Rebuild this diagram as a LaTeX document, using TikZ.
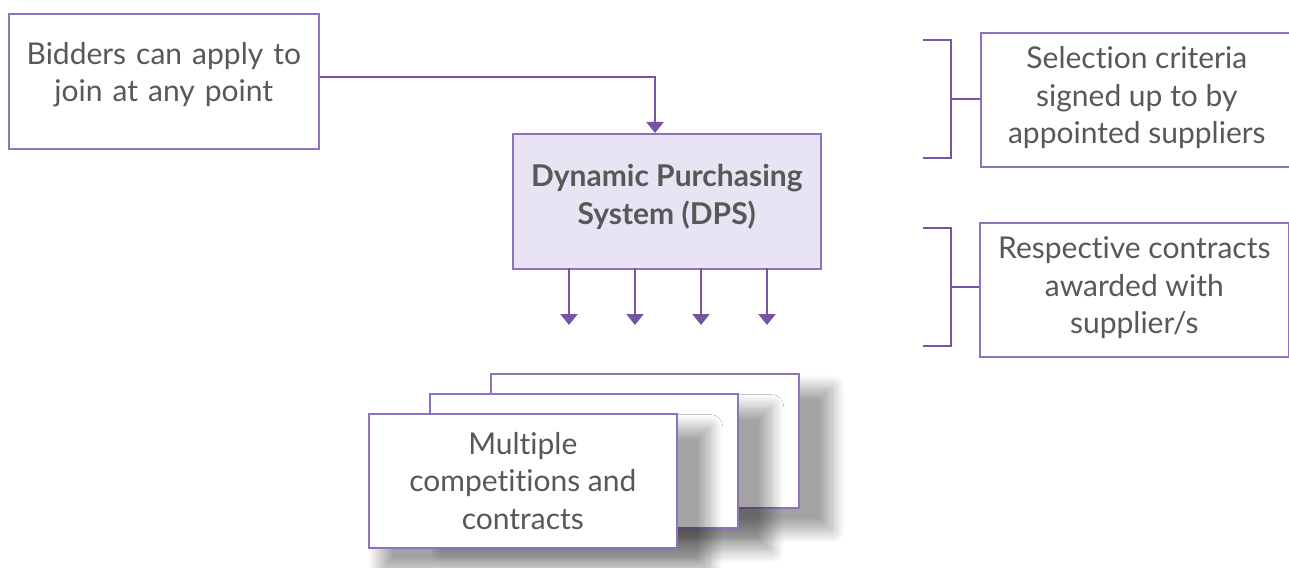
\documentclass[tikz,border=0pt]{standalone}
\usepackage{fontspec}
\setmainfont{Lato}[Ligatures=NoCommon]
\usetikzlibrary{arrows.meta,shadows.blur}
\definecolor{boxline}{RGB}{142,114,186}
\definecolor{arrowc}{RGB}{118,84,164}
\definecolor{dpsfill}{RGB}{232,228,243}
\definecolor{txt}{RGB}{88,88,88}
\tikzset{
  plainbox/.style={draw=boxline, line width=1.6pt, fill=white, text=txt, align=center,
    minimum width=310pt, minimum height=135pt, inner sep=0pt, anchor=north west,
    font=\fontsize{30}{37.5}\selectfont},
  dpsbox/.style={plainbox, fill=dpsfill, font=\fontsize{30}{38}\selectfont\bfseries},
  stackbox/.style={plainbox, blur shadow={shadow xshift=21pt, shadow yshift=-17pt,
    shadow scale=1.07, shadow blur radius=12pt, shadow blur steps=14, shadow opacity=36}},
  conn/.style={draw=arrowc, line width=2.4pt},
  arr/.style={conn, -{Triangle[width=17pt,length=11pt]}},
}
\begin{document}
\begin{tikzpicture}[x=1pt,y=-1pt]
\useasboundingbox (0,0) rectangle (1289,567);
% top-left box
\node[plainbox, text width=300pt] (bid) at (8,13) {Bidders can apply to\\join at any point\\[-30pt]\strut};
% DPS
\node[dpsbox, minimum width=308pt] (dps) at (512,133) {Dynamic Purchasing\\System (DPS)\\[-36pt]\strut};
\coordinate (bend) at (655,77);
\draw[arr] (bid.east |- bend) -- (bend) -- (bend |- dps.north);
% four arrows
\foreach \i/\x in {1/569,2/635,3/701,4/767}{
  \coordinate (s\i) at (\x,268);
  \coordinate (e\i) at (\x,325);
  \draw[arr] (s\i) -- (e\i);
}
% right boxes
\node[plainbox, minimum width=312pt, minimum height=134pt] (sel) at (980,32) {Selection criteria\\signed up to by\\appointed suppliers\\[-40pt]\strut};
\node[plainbox, minimum width=309pt, minimum height=134pt] (res) at (979,222) {Respective contracts\\awarded with\\supplier/s\\[-40pt]\strut};
% brackets
\coordinate (b1t) at (923,40);
\coordinate (b1b) at (923,158);
\coordinate (b1v) at (951,99);
\draw[conn] (b1t) -| (b1v) |- (b1b);
\draw[conn] (b1v) -- (b1v -| sel.west);
\coordinate (b2t) at (923,228);
\coordinate (b2b) at (923,346);
\coordinate (b2v) at (951,287);
\draw[conn] (b2t) -| (b2v) |- (b2b);
\draw[conn] (b2v) -- (b2v -| res.west);
% stacked boxes
\node[stackbox, minimum width=308pt, minimum height=134pt] (st3) at (490,373) {};
\node[stackbox, minimum width=308pt, minimum height=134pt] (st2) at (429,393) {};
\node[stackbox, minimum width=308pt, minimum height=134pt] (st1) at (368,413) {Multiple\\competitions and\\contracts};
\end{tikzpicture}
\end{document}
